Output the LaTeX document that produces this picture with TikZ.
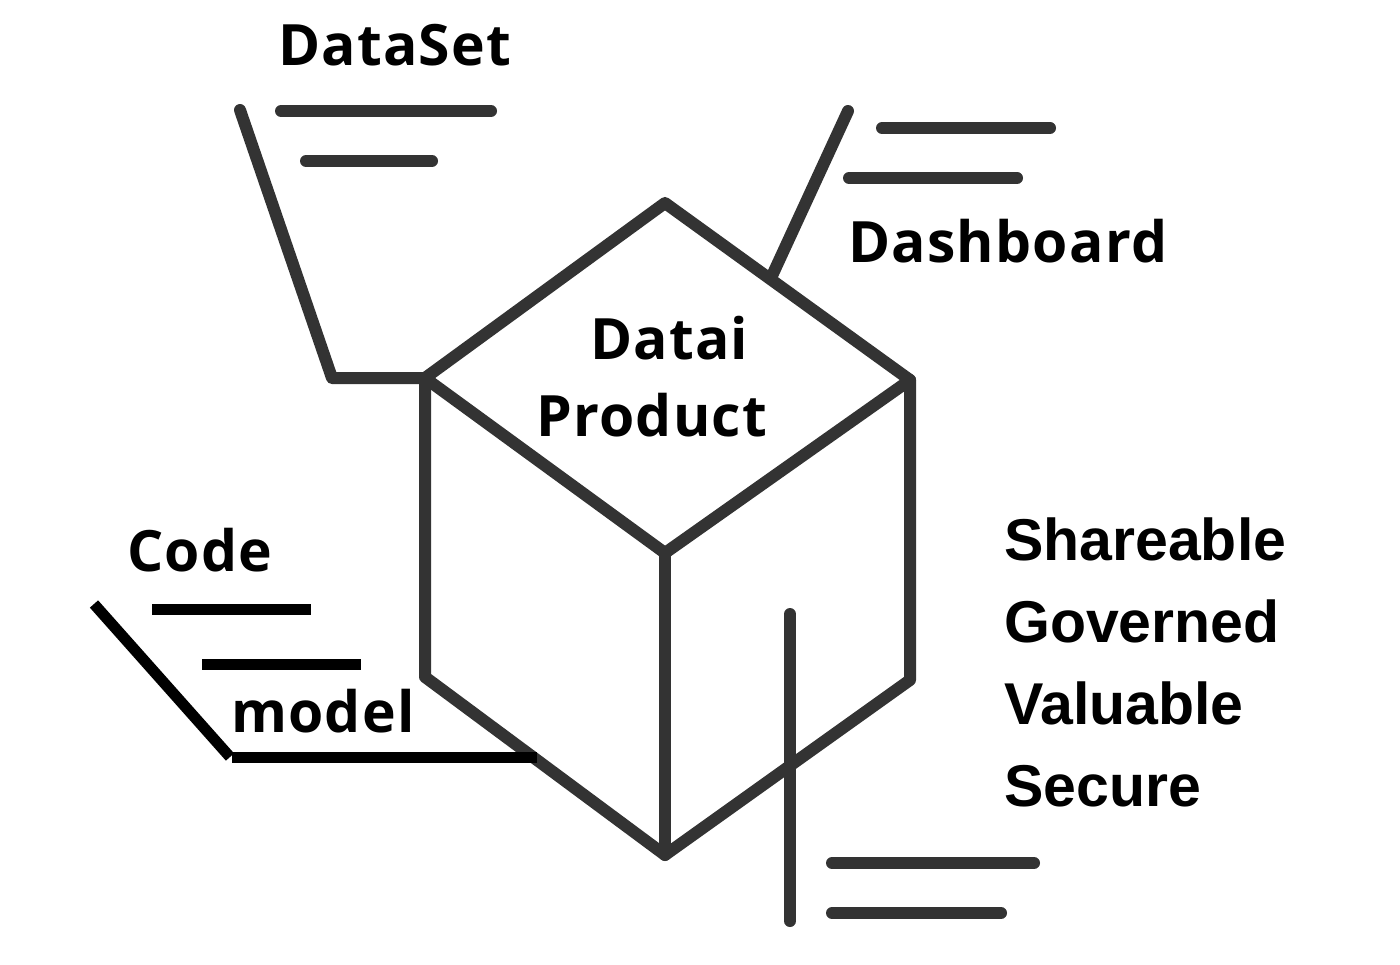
\documentclass[tikz,border=0pt]{standalone}
\usepackage{fontspec}
\setmainfont{Open Sans}[LetterSpace=2.2]
\newfontfamily\arialb{Liberation Sans}[BoldFont={* Bold}]
\begin{document}
\begin{tikzpicture}[x=1pt,y=-1pt,
  grayline/.style={draw=cubegray,line width=12pt,line cap=round,line join=round},
  blackline/.style={draw=black,line width=11pt,line cap=butt,line join=miter},
  lbl/.style={inner sep=0pt,anchor=base west,font=\fontsize{57}{60}\selectfont\bfseries},
  rlbl/.style={inner sep=0pt,anchor=base west,font=\fontsize{59}{60}\selectfont\arialb\bfseries}]
\definecolor{cubegray}{HTML}{333333}
\useasboundingbox[fill=white] (0,0) rectangle (1400,964);
% cube vertices
\coordinate (T) at (665,203);
\coordinate (L) at (425,378);
\coordinate (R) at (910,380);
\coordinate (C) at (665,553);
\coordinate (B) at (665,855);
\coordinate (LB) at (425,677);
\coordinate (RB) at (910,680);
\draw[grayline] (T) -- (R) -- (C) -- (L) -- cycle;
\draw[grayline] (L) -- (LB) -- (B) -- (RB) -- (R);
\draw[grayline] (C) -- (B);
% DataSet bracket
\coordinate (ds1) at (240,110);
\coordinate (ds2) at (332,378);
\draw[grayline] (ds1) -- (ds2) -- (L);
\coordinate (dsa1) at (281,111); \coordinate (dsa2) at (491,111);
\coordinate (dsb1) at (306,161); \coordinate (dsb2) at (432,161);
\draw[grayline] (dsa1) -- (dsa2);
\draw[grayline] (dsb1) -- (dsb2);
\node[lbl] (dataset) at (278,65) {DataSet};
% Dashboard
\coordinate (db1) at (848,111);
\coordinate (db2) at (771,278);
\draw[grayline] (db1) -- (db2);
\coordinate (dba1) at (882,128); \coordinate (dba2) at (1050,128);
\coordinate (dbb1) at (849,178); \coordinate (dbb2) at (1017,178);
\draw[grayline] (dba1) -- (dba2);
\draw[grayline] (dbb1) -- (dbb2);
\node[lbl] (dashboard) at (848,262) {Dashboard};
% cube label
\node[lbl] (datai) at (590,359) {Datai};
\node[lbl] (product) at (536,436) {Product};
% Code / model
\coordinate (cd1) at (94,604);
\coordinate (cd2) at (230,757);
\coordinate (cd3) at (537,757);
\draw[blackline] (cd1) -- (cd2);
\draw[blackline] (232,757) coordinate (cd2b) -- (cd3);
\coordinate (cda1) at (152,609); \coordinate (cda2) at (311,609);
\coordinate (cdb1) at (202,664); \coordinate (cdb2) at (361,664);
\draw[blackline] (cda1) -- (cda2);
\draw[blackline] (cdb1) -- (cdb2);
\node[lbl] (code) at (127,571) {Code};
\node[lbl] (model) at (231,732) {model};
% bottom right
\coordinate (br1) at (790,614);
\coordinate (br2) at (790,921);
\draw[grayline] (br1) -- (br2);
\coordinate (bra1) at (832,863); \coordinate (bra2) at (1034,863);
\coordinate (brb1) at (832,913); \coordinate (brb2) at (1001,913);
\draw[grayline] (bra1) -- (bra2);
\draw[grayline] (brb1) -- (brb2);
% properties
\node[rlbl] (share) at (1004,560) {Shareable};
\node[rlbl] (gov) at (1004,642) {Governed};
\node[rlbl] (val) at (1004,724) {Valuable};
\node[rlbl] (sec) at (1004,806) {Secure};
\end{tikzpicture}
\end{document}
